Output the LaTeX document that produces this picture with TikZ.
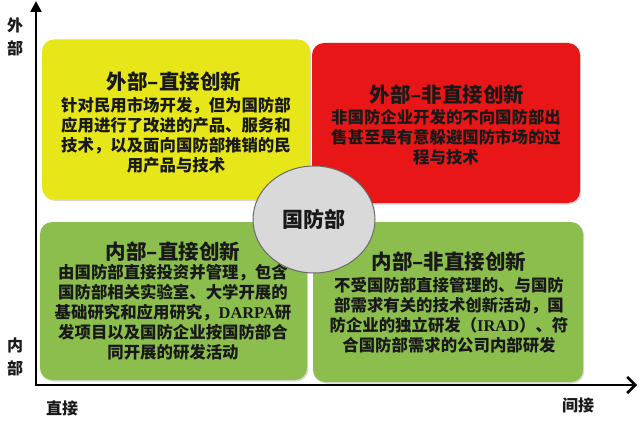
\documentclass[tikz,border=0pt]{standalone}
\usepackage{fontspec}
\setmainfont{Liberation Serif}
\newfontfamily\cjk{Noto Sans CJK SC}
\usetikzlibrary{arrows.meta,shadows,shapes.geometric}
\definecolor{qyellow}{RGB}{230,230,24}
\definecolor{qred}{RGB}{232,22,22}
\definecolor{qgreen}{RGB}{140,190,78}
\definecolor{qgray}{RGB}{217,217,217}
\definecolor{qedge}{RGB}{105,105,105}
\definecolor{qtext}{RGB}{25,25,25}
\begin{document}
\begin{tikzpicture}[x=1pt,y=-1pt,
  quad/.style={rectangle,rounded corners=12pt,inner sep=0pt,
    drop shadow={shadow xshift=1.2pt,shadow yshift=-1.5pt,opacity=0.3}},
  ttl/.style={font=\cjk\bfseries\fontsize{20.5}{24}\selectfont,inner sep=0pt,text=qtext},
  body/.style={font=\cjk\bfseries\fontsize{16.4}{20}\selectfont,align=center,inner sep=0pt,text=qtext},
  axisline/.style={line width=2.5pt,black},
  axlabel/.style={font=\cjk\bfseries\fontsize{16}{23}\selectfont,inner sep=0pt,align=center,text=qtext}]
\useasboundingbox (0,0) rectangle (640,425);
\fill[white] (0,0) rectangle (640,425);

% quadrants
\node[quad,fill=qyellow,minimum width=268pt,minimum height=160pt] (yb) at (176,119.5) {};
\node[quad,fill=qred,minimum width=268pt,minimum height=160pt] (rb) at (446,123) {};
\node[quad,fill=qgreen,minimum width=267pt,minimum height=158pt] (gl) at (173.5,301) {};
\node[quad,fill=qgreen,minimum width=270pt,minimum height=160pt] (gr) at (448,302) {};

% texts
\node[ttl] (yt) at (174,82) {外部–直接创新};
\node[body] (ytx) at (176,135) {针对民用市场开发，但为国防部\\应用进行了改进的产品、服务和\\技术，以及面向国防部推销的民\\用产品与技术};

\node[ttl] (rt) at (447,95) {外部–非直接创新};
\node[body] (rtx) at (446,137) {非国防企业开发的不向国防部出\\售甚至是有意躲避国防市场的过\\程与技术};

\node[ttl] (glt) at (173,252) {内部–直接创新};
\node[body] (gltx) at (173,312.5) {由国防部直接投资并管理，包含\\国防部相关实验室、大学开展的\\基础研究和应用研究，{\rmfamily\bfseries DARPA}研\\发项目以及国防企业按国防部合\\同开展的研发活动};

\node[ttl] (grt) at (449,262) {内部–非直接创新};
\node[body] (grtx) at (449,315) {不受国防部直接管理的、与国防\\部需求有关的技术创新活动，国\\防企业的独立研发（{\rmfamily\bfseries IRAD}）、符\\合国防部需求的公司内部研发};

% centre ellipse
\node[ellipse,fill=qgray,draw=qedge,line width=1pt,minimum width=122pt,minimum height=107pt,
  font=\cjk\bfseries\fontsize{21}{24}\selectfont,text=qtext] (dod) at (314,219.5) {国防部};

% axes
\coordinate (ytop) at (36,1);
\coordinate (orig) at (36,385);
\coordinate (xend) at (637,385);
\draw[axisline,{Triangle[length=11pt,width=11pt]}-{Straight Barb[length=8pt,width=16pt,line width=2.5pt]}]
  (ytop) -- (orig) -- (xend);

% axis labels
\node[axlabel] (ext) at (15,37) {外\\部};
\node[axlabel] (int) at (15,357) {内\\部};
\node[axlabel] (dir) at (62,408) {直接};
\node[axlabel] (ind) at (578,405) {间接};
\end{tikzpicture}
\end{document}
